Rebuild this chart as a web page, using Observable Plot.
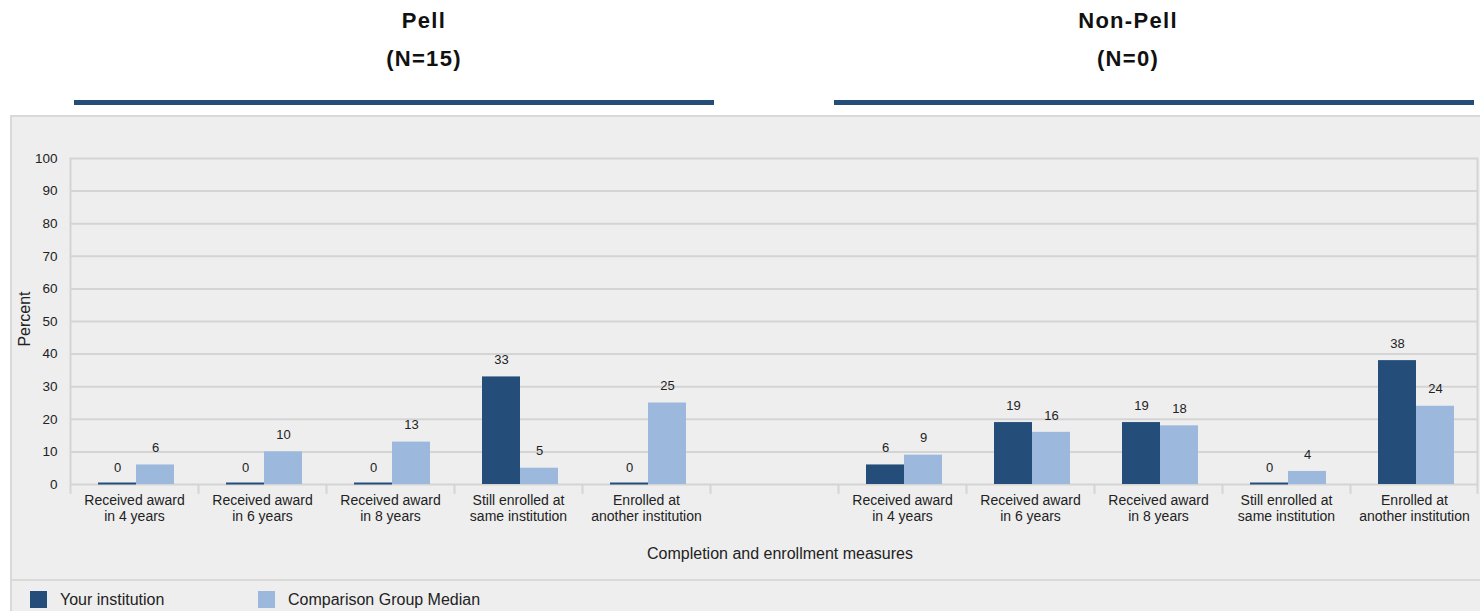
<!DOCTYPE html>
<html>
<head>
<meta charset="utf-8">
<script src="https://cdn.jsdelivr.net/npm/d3@7"></script>
<script src="https://cdn.jsdelivr.net/npm/@observablehq/plot@0.6"></script>
<style>
  html, body { margin: 0; padding: 0; background: #ffffff; }
  body { width: 1480px; height: 611px; overflow: hidden; position: relative;
         font-family: "Liberation Sans", Arial, Helvetica, sans-serif; color: #222; }
  .abs { position: absolute; }
  .title { font-weight: bold; font-size: 22px; line-height: 22px; letter-spacing: 1.3px;
           text-align: center; width: 400px; color: #111; white-space: nowrap; }
  .hline { height: 5px; background: #244d7a; }
  #panel { left: 10px; top: 115px; width: 1480px; height: 500px; background: #eeeeee;
           border-top: 2px solid #d9d9d9; border-left: 2px solid #d9d9d9; box-sizing: border-box; }
  #sep { left: 10px; top: 579px; width: 1480px; height: 2px; background: #d9d9d9; }
  .sw { width: 17px; height: 17px; }
  .lg { font-size: 16px; line-height: 16px; white-space: nowrap; color: #222; }
  #xlabel { font-size: 16px; line-height: 16px; width: 400px; text-align: center; color: #222; }
  #ylabel { font-size: 16px; line-height: 16px; transform: rotate(-90deg); transform-origin: center center;
            width: 100px; text-align: center; color: #222; }
</style>
</head>
<body>
<div id="panel" class="abs"></div>
<div id="sep" class="abs"></div>
<div id="chart" class="abs" style="left:10px; top:115px;"></div>
<script>
// ---------------- data ----------------
const groups = ["Pell", "Non-Pell"];
const groupN = [15, 0];
const seriesNames = ["Your institution", "Comparison Group Median"];
const seriesColors = ["#244d7a", "#9cb9dd"];
const measures = [
  "Received award\nin 4 years",
  "Received award\nin 6 years",
  "Received award\nin 8 years",
  "Still enrolled at\nsame institution",
  "Enrolled at\nanother institution"
];
const pellYour = [0, 0, 0, 33, 0];
const pellComparison = [6, 10, 13, 5, 25];
const nonPellYour = [6, 19, 19, 0, 38];
const nonPellComparison = [9, 16, 18, 4, 24];
const yTicks = [0, 10, 20, 30, 40, 50, 60, 70, 80, 90, 100];
const yLabel = "Percent";
const xLabel = "Completion and enrollment measures";

// ---------------- build table ----------------
const groupValues = [[pellYour, pellComparison], [nonPellYour, nonPellComparison]];
const slots = [];
const slotLabel = new Map();
const rows = [];
groups.forEach((g, gi) => {
  if (gi > 0) {
    slots.push("gap");
    slotLabel.set("gap", "");
    rows.push({slot: "gap", series: seriesNames[0], value: null});
  }
  measures.forEach((m, mi) => {
    const key = g + "|" + mi;
    slots.push(key);
    slotLabel.set(key, m);
    seriesNames.forEach((s, si) => {
      rows.push({slot: key, series: s, value: groupValues[gi][si][mi]});
    });
  });
});

// ---------------- layout ----------------
const W = 1470, H = 462;
const mL = 60, mR = 2, mT = 43, mB = H - (484 - 115);
const half = (W - mL - mR) / slots.length / 2;
const gridColor = "#d4d4d4";

const chart = Plot.plot({
  width: W, height: H,
  marginLeft: mL, marginRight: mR, marginTop: mT, marginBottom: mB,
  style: {background: "transparent", fontFamily: "'Liberation Sans', Arial, sans-serif", color: "#222", overflow: "visible"},
  fx: {domain: slots, padding: 0},
  x: {domain: seriesNames, axis: null, paddingInner: 0, paddingOuter: 0.684, align: 0.53},
  y: {domain: [0, 100]},
  color: {domain: seriesNames, range: seriesColors},
  marks: [
    Plot.gridY(yTicks, {stroke: gridColor, strokeWidth: 2, strokeOpacity: 1}),
    // left frame edge (first slot) and right frame edge (last slot)
    Plot.ruleX([slots[0]], {fx: d => d, x: null, y1: -3, y2: 100, dx: -half, stroke: gridColor, strokeWidth: 2}),
    Plot.ruleX([slots[slots.length - 1]], {fx: d => d, x: null, y1: -3, y2: 100, dx: half - 1, stroke: gridColor, strokeWidth: 2}),
    // category separators below the axis
    Plot.ruleX(slots.slice(1), {fx: d => d, x: null, y1: -3, y2: 0, dx: -half, stroke: gridColor, strokeWidth: 2}),
    Plot.barY(rows, {fx: "slot", x: "series", y: "value", fill: "series"}),
    Plot.tickY(rows.filter(d => d.value === 0), {fx: "slot", x: "series", y: "value", stroke: "series", strokeWidth: 2, dy: -1}),
    Plot.text(rows, {fx: "slot", x: "series", y: "value", text: d => d.value == null ? null : String(d.value),
                     dy: -17, fontSize: 13, fill: "#222"}),
    Plot.axisY(yTicks, {tickSize: 0, tickPadding: 13, fontSize: 13.5, fill: "#222", label: null}),
    Plot.axisFx({anchor: "bottom", tickSize: 0, tickPadding: 9, fontSize: 14, lineHeight: 1.143,
                 fill: "#222", label: null, tickFormat: k => slotLabel.get(k)})
  ]
});
document.getElementById("chart").appendChild(chart);

// ---------------- header, labels, legend (HTML) ----------------
const body = document.body;
function add(cls, style, text) {
  const d = document.createElement("div");
  d.className = "abs " + cls;
  Object.assign(d.style, style);
  if (text != null) d.textContent = text;
  body.appendChild(d);
  return d;
}
const titleCenters = [424, 1128];
const lineSpans = [[74, 714], [834, 1474]];
groups.forEach((g, i) => {
  add("title", {left: (titleCenters[i] - 200) + "px", top: "10px"}, g);
  add("title", {left: (titleCenters[i] - 200) + "px", top: "48px"}, "(N=" + groupN[i] + ")");
  add("hline", {left: lineSpans[i][0] + "px", top: "100px", width: (lineSpans[i][1] - lineSpans[i][0]) + "px"});
});
add("", {left: "580px", top: "546px"}, xLabel).id = "xlabel";
add("", {left: "-25px", top: "311px"}, yLabel).id = "ylabel";

const legendX = [[30, 60], [258, 288]];
seriesNames.forEach((s, i) => {
  add("sw", {left: legendX[i][0] + "px", top: "591px", background: seriesColors[i]});
  add("lg", {left: legendX[i][1] + "px", top: "592px"}, s);
});
</script>
</body>
</html>
